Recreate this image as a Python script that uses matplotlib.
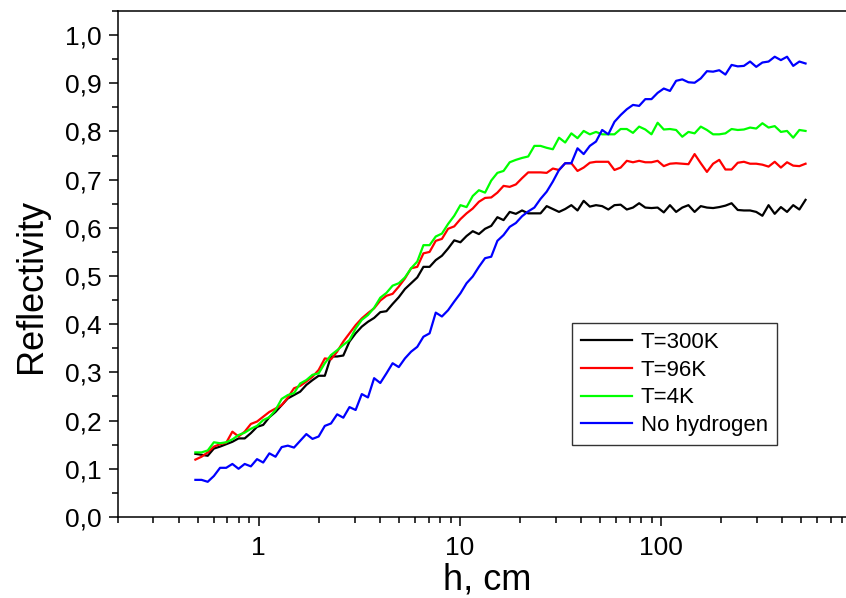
import numpy as np
import matplotlib
matplotlib.use("Agg")
from matplotlib import pyplot as plt
from matplotlib.ticker import FixedLocator, FuncFormatter, MultipleLocator, LogLocator, NullFormatter

plt.rcParams["font.family"] = ["Liberation Sans", "DejaVu Sans"]

h_start, h_end, n_points = 0.485, 524.0, 100
h = np.logspace(np.log10(h_start), np.log10(h_end), n_points)

t300 = [0.131, 0.129, 0.127, 0.142, 0.146, 0.151, 0.156, 0.163, 0.163, 0.174,
        0.187, 0.191, 0.207, 0.218, 0.232, 0.246, 0.253, 0.260, 0.274, 0.284,
        0.293, 0.293, 0.333, 0.333, 0.335, 0.364, 0.381, 0.395, 0.405, 0.413,
        0.425, 0.427, 0.442, 0.456, 0.473, 0.485, 0.497, 0.519, 0.519, 0.533,
        0.542, 0.557, 0.574, 0.570, 0.583, 0.593, 0.587, 0.598, 0.604, 0.622,
        0.616, 0.633, 0.629, 0.636, 0.630, 0.630, 0.630, 0.645, 0.639, 0.633,
        0.639, 0.647, 0.636, 0.656, 0.644, 0.647, 0.645, 0.638, 0.647, 0.648,
        0.638, 0.642, 0.651, 0.642, 0.641, 0.642, 0.632, 0.647, 0.633, 0.642,
        0.647, 0.633, 0.645, 0.642, 0.641, 0.643, 0.646, 0.651, 0.637, 0.636,
        0.636, 0.633, 0.625, 0.647, 0.629, 0.643, 0.633, 0.647, 0.638, 0.658]

t96 = [0.119, 0.125, 0.134, 0.146, 0.151, 0.154, 0.177, 0.167, 0.177, 0.193,
       0.198, 0.208, 0.218, 0.225, 0.232, 0.248, 0.267, 0.272, 0.281, 0.291,
       0.305, 0.329, 0.327, 0.343, 0.364, 0.381, 0.398, 0.412, 0.423, 0.433,
       0.449, 0.459, 0.463, 0.478, 0.495, 0.516, 0.519, 0.547, 0.550, 0.573,
       0.577, 0.598, 0.603, 0.618, 0.630, 0.640, 0.654, 0.662, 0.663, 0.673,
       0.687, 0.685, 0.690, 0.703, 0.715, 0.715, 0.715, 0.714, 0.723, 0.720,
       0.734, 0.734, 0.718, 0.725, 0.735, 0.737, 0.737, 0.737, 0.720, 0.725,
       0.739, 0.736, 0.739, 0.736, 0.736, 0.739, 0.728, 0.733, 0.734, 0.733,
       0.732, 0.753, 0.734, 0.716, 0.733, 0.741, 0.721, 0.721, 0.735, 0.737,
       0.733, 0.733, 0.731, 0.727, 0.737, 0.725, 0.736, 0.729, 0.728, 0.733]

t4 = [0.134, 0.134, 0.138, 0.155, 0.153, 0.155, 0.161, 0.170, 0.175, 0.183,
      0.189, 0.201, 0.207, 0.222, 0.245, 0.253, 0.257, 0.277, 0.284, 0.295,
      0.298, 0.319, 0.336, 0.346, 0.357, 0.367, 0.391, 0.409, 0.419, 0.434,
      0.455, 0.465, 0.480, 0.485, 0.497, 0.516, 0.530, 0.564, 0.564, 0.582,
      0.588, 0.608, 0.625, 0.647, 0.643, 0.666, 0.678, 0.673, 0.698, 0.714,
      0.718, 0.736, 0.741, 0.745, 0.748, 0.770, 0.770, 0.766, 0.763, 0.787,
      0.777, 0.796, 0.786, 0.801, 0.794, 0.799, 0.794, 0.794, 0.794, 0.805,
      0.805, 0.797, 0.810, 0.804, 0.794, 0.818, 0.804, 0.805, 0.803, 0.789,
      0.799, 0.796, 0.810, 0.803, 0.794, 0.794, 0.796, 0.805, 0.803, 0.804,
      0.808, 0.806, 0.817, 0.808, 0.811, 0.799, 0.801, 0.787, 0.803, 0.801]

no_h = [0.077, 0.077, 0.073, 0.085, 0.102, 0.102, 0.110, 0.100, 0.110, 0.105,
        0.120, 0.113, 0.132, 0.125, 0.145, 0.148, 0.144, 0.158, 0.172, 0.162,
        0.167, 0.189, 0.194, 0.213, 0.206, 0.228, 0.222, 0.255, 0.248, 0.288,
        0.278, 0.298, 0.319, 0.311, 0.329, 0.343, 0.353, 0.374, 0.381, 0.424,
        0.416, 0.429, 0.447, 0.464, 0.485, 0.499, 0.519, 0.537, 0.540, 0.573,
        0.585, 0.602, 0.610, 0.624, 0.634, 0.642, 0.660, 0.675, 0.696, 0.720,
        0.734, 0.734, 0.765, 0.753, 0.770, 0.779, 0.803, 0.794, 0.820, 0.834,
        0.846, 0.855, 0.853, 0.867, 0.867, 0.880, 0.889, 0.884, 0.905, 0.908,
        0.902, 0.901, 0.910, 0.925, 0.924, 0.927, 0.918, 0.938, 0.935, 0.936,
        0.945, 0.934, 0.943, 0.945, 0.955, 0.948, 0.955, 0.936, 0.945, 0.941]

labels = ["T=300K", "T=96K", "T=4K", "No hydrogen"]
colors = ["#000000", "#ff0000", "#00ff00", "#0000ff"]

fig = plt.figure(figsize=(8.46, 5.98), dpi=100)
ax = fig.add_axes([0.1395, 0.1355, 0.8794, 0.8462])

for y, lab, c in zip([t300, t96, t4, no_h], labels, colors):
    ax.plot(h, y, color=c, lw=1.6, label=lab)

ax.set_xscale("log")
ax.set_xlim(0.2, 1000)
ax.set_ylim(0, 1.05)

ax.xaxis.set_major_locator(FixedLocator([1, 10, 100]))
ax.xaxis.set_major_formatter(FuncFormatter(lambda v, p: "%g" % v))
ax.xaxis.set_minor_locator(LogLocator(base=10, subs=np.arange(2, 10)))
ax.xaxis.set_minor_formatter(NullFormatter())

ax.yaxis.set_major_locator(MultipleLocator(0.1))
ax.yaxis.set_minor_locator(MultipleLocator(0.05))
ax.yaxis.set_major_formatter(FuncFormatter(lambda v, p: ("%.1f" % v).replace(".", ",")))

ax.tick_params(which="major", direction="out", length=6.5, width=1.1,
               labelsize=19, pad=5)
ax.tick_params(which="minor", direction="out", length=4, width=1.1)
ax.tick_params(axis="x", which="major", pad=7)
ax.spines["right"].set_visible(False)
for s in ["left", "bottom", "top"]:
    ax.spines[s].set_linewidth(1.1)

leg = ax.legend(loc="upper left", bbox_to_anchor=(0.610, 0.383), borderaxespad=0,
                fontsize=16, frameon=True, fancybox=False, handlelength=2.3,
                labelspacing=0.3, handletextpad=0.4, borderpad=0.4)
leg.get_frame().set_edgecolor("black")
leg.get_frame().set_linewidth(1.0)

fig.text(31 / 846, 1 - 286 / 598, "Reflectivity", rotation=90,
         ha="center", va="center", fontsize=26)
fig.text(487 / 846, 9 / 598, "h, cm", ha="center", va="baseline", fontsize=26)

fig.savefig("out.png", dpi=100)
